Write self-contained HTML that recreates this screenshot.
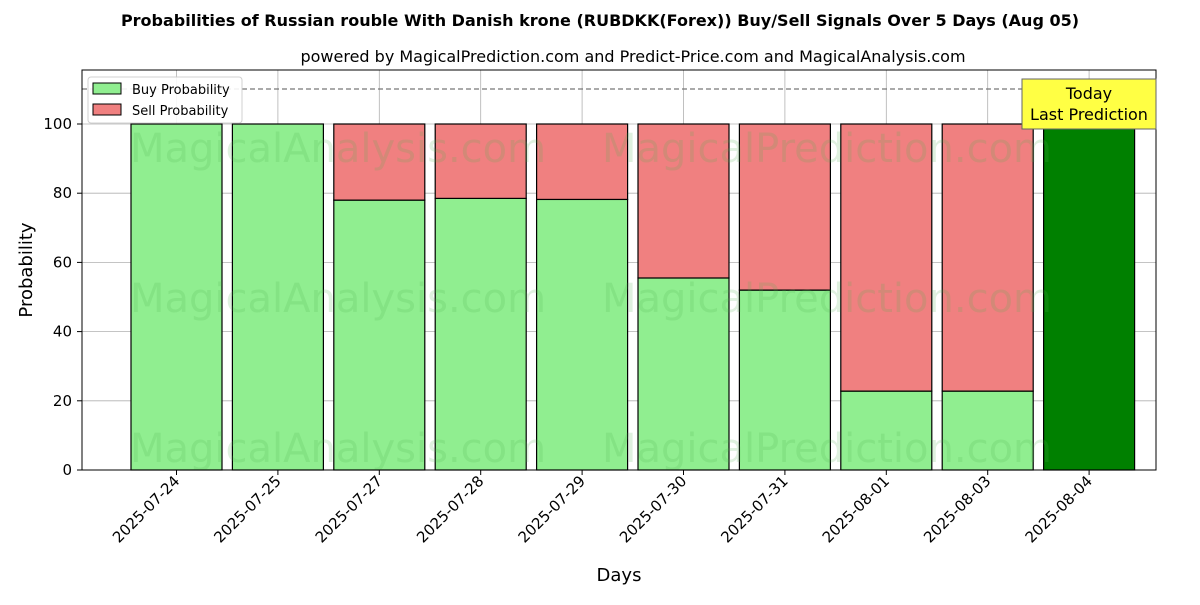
<!DOCTYPE html>
<html><head><meta charset="utf-8"><style>
body{margin:0;background:#fff;}
svg text{font-family:"DejaVu Sans","Liberation Sans",sans-serif;}
</style></head><body>
<svg id="chart" width="1200" height="600" xmlns="http://www.w3.org/2000/svg">
<text x="600" y="26" text-anchor="middle" font-size="16" font-weight="bold">Probabilities of Russian rouble With Danish krone (RUBDKK(Forex)) Buy/Sell Signals Over 5 Days (Aug 05)</text>
<text x="633" y="62" text-anchor="middle" font-size="16">powered by MagicalPrediction.com and Predict-Price.com and MagicalAnalysis.com</text>
<g id="grid"></g>
<g id="bars"></g>
<g id="wm" font-size="40" fill="rgba(80,180,80,0.18)">
<text x="130" y="162">MagicalAnalysis.com</text><text x="602" y="162">MagicalPrediction.com</text>
<text x="130" y="312">MagicalAnalysis.com</text><text x="602" y="312">MagicalPrediction.com</text>
<text x="130" y="462">MagicalAnalysis.com</text><text x="602" y="462">MagicalPrediction.com</text>
</g>
<line x1="82" x2="1156" y1="89" y2="89" stroke="#777" stroke-dasharray="5,3" stroke-width="1.2"/>
<g id="axes"></g>
<rect x="82" y="70" width="1074" height="400" fill="none" stroke="#000" stroke-width="1"/>
<g>
<rect x="1022" y="79" width="134" height="50" fill="#ffff44" stroke="#666"/>
<text x="1089" y="99" text-anchor="middle" font-size="16">Today</text>
<text x="1089" y="120" text-anchor="middle" font-size="16">Last Prediction</text>
</g>
<g>
<rect x="88" y="77" width="154" height="46" fill="#fff" stroke="#ccc" rx="3" opacity="0.9"/>
<rect x="93" y="83" width="28" height="11" fill="#90ee90" stroke="#000"/>
<text x="132" y="94" font-size="13">Buy Probability</text>
<rect x="93" y="104" width="28" height="11" fill="#f08080" stroke="#000"/>
<text x="132" y="115" font-size="13">Sell Probability</text>
</g>
<text x="619" y="581" text-anchor="middle" font-size="18">Days</text>
<text x="32" y="270" text-anchor="middle" font-size="18" transform="rotate(-90 32 270)">Probability</text>
</svg>
<script>
const categories=["2025-07-24","2025-07-25","2025-07-27","2025-07-28","2025-07-29","2025-07-30","2025-07-31","2025-08-01","2025-08-03","2025-08-04"];
const buyValues=[100,100,78,78.5,78.2,55.5,52,22.8,22.8,100];
const sellValues=[0,0,22,21.5,21.8,44.5,48,77.2,77.2,0];
const yTicks=[0,20,40,60,80,100];
const NS="http://www.w3.org/2000/svg";
const y=v=>470-v*3.46;
const x=i=>176.5+101.4*i;
const bw=91;
function mk(tag,attrs,parent){const e=document.createElementNS(NS,tag);for(const k in attrs)e.setAttribute(k,attrs[k]);parent.appendChild(e);return e;}
const grid=document.getElementById('grid'),bars=document.getElementById('bars'),axes=document.getElementById('axes');
yTicks.forEach(t=>{
 const g=mk('line',{x1:82,x2:1156,y1:y(t),y2:y(t),stroke:'#b0b0b0','stroke-width':0.8},grid);
 
 const tk=mk('line',{x1:77,x2:82,y1:y(t),y2:y(t),stroke:'#000'},axes);
 
 const tl=mk('text',{x:72,y:y(t)+5,'text-anchor':'end','font-size':15},axes);tl.textContent=t;
 
});
categories.forEach((c,i)=>{
 const cx=x(i);
 const g=mk('line',{x1:cx,x2:cx,y1:70,y2:470,stroke:'#b0b0b0','stroke-width':0.8},grid);
 
 const last=i===categories.length-1;
 const b=mk('rect',{x:cx-bw/2,y:y(buyValues[i]),width:bw,height:y(0)-y(buyValues[i]),fill:last?'#008000':'#90ee90',stroke:'#000','stroke-width':1.2},bars);
 
 if(sellValues[i]>0){
  const s=mk('rect',{x:cx-bw/2,y:y(buyValues[i]+sellValues[i]),width:bw,height:y(buyValues[i])-y(buyValues[i]+sellValues[i]),fill:'#f08080',stroke:'#000','stroke-width':1.2},bars);
  
 }
 const tk=mk('line',{x1:cx,x2:cx,y1:470,y2:475,stroke:'#000'},axes);
 
 const tl=mk('text',{x:cx+4,y:482,'text-anchor':'end','font-size':15,transform:`rotate(-45 ${cx+4} 482)`},axes);tl.textContent=c;
 
});
</script>
</body></html>
